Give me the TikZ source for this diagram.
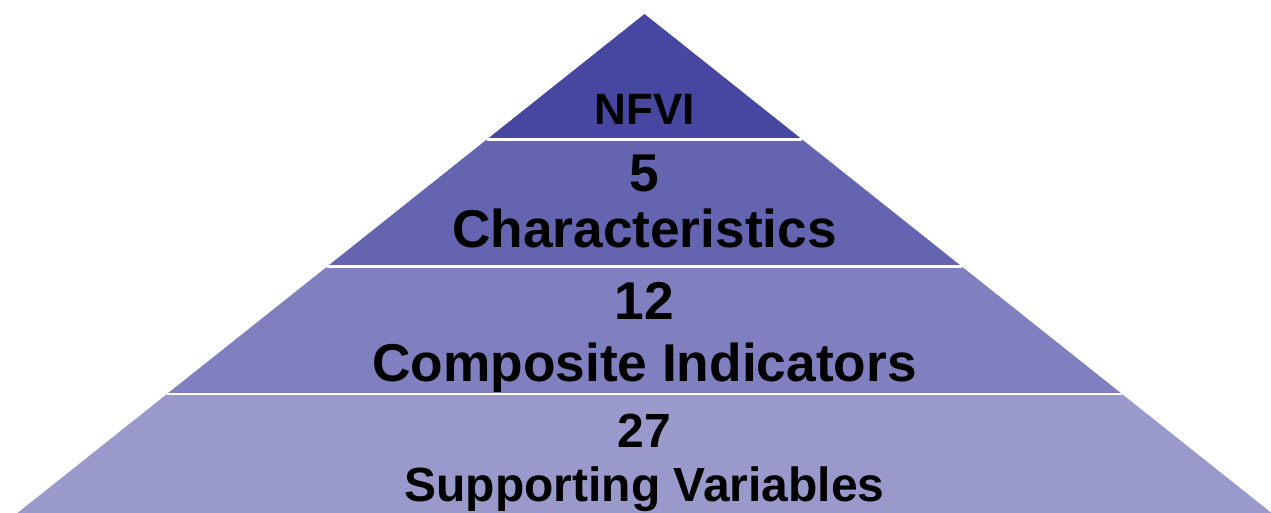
\documentclass[tikz,border=0pt]{standalone}
\usepackage{fontspec}
\setmainfont{Liberation Sans}

\definecolor{tierone}{RGB}{71,71,161}
\definecolor{tiertwo}{RGB}{100,100,176}
\definecolor{tierthree}{RGB}{128,128,192}
\definecolor{tierfour}{RGB}{153,153,204}

\tikzset{
  gapline/.style={draw=white,line width=1.7pt},
  toplabel/.style={anchor=base,inner sep=0pt,font=\bfseries\fontsize{25pt}{30pt}\selectfont},
  tierlabel/.style={anchor=base,inner sep=0pt,font=\bfseries\fontsize{30.3pt}{36pt}\selectfont},
  baselabel/.style={anchor=base,inner sep=0pt,font=\bfseries\fontsize{27.3pt}{32pt}\selectfont}
}

\begin{document}
\begin{tikzpicture}[x=0.02cm,y=0.02cm]
      \useasboundingbox (0,0) rectangle (1271,513);
      \clip (0,0) rectangle (1271,513);

      % corners of the pyramid and of its tiers
      \coordinate (apex) at (644.5,499);
      \coordinate (b1l) at (486.8,373.5);
      \coordinate (b1r) at (802.2,373.5);
      \coordinate (b2l) at (327.2,246.5);
      \coordinate (b2r) at (961.8,246.5);
      \coordinate (b3l) at (167,119);
      \coordinate (b3r) at (1122,119);
      \coordinate (b4l) at (6.8,-8.5);
      \coordinate (b4r) at (1282.2,-8.5);

      \fill[tierone] (apex) -- (b1r) -- (b1l) -- cycle;
      \fill[tiertwo] (b1l) -- (b1r) -- (b2r) -- (b2l) -- cycle;
      \fill[tierthree] (b2l) -- (b2r) -- (b3r) -- (b3l) -- cycle;
      \fill[tierfour] (b3l) -- (b3r) -- (b4r) -- (b4l) -- cycle;

      \draw[gapline] (b1l) -- (b1r);
      \draw[gapline] (b2l) -- (b2r);
      \draw[gapline] (b3l) -- (b3r);

      \node[toplabel] (nfvi) at (644.5,388) {NFVI};
      \node[tierlabel] (charnum) at (644.5,321.3) {5};
      \node[tierlabel] (chartext) at (644.5,265.7) {Characteristics};
      \node[tierlabel] (compnum) at (644.5,193) {12};
      \node[tierlabel] (comptext) at (644.5,131.3) {Composite Indicators};
      \node[baselabel] (suppnum) at (644.5,65) {27};
      \node[baselabel] (supptext) at (644.5,11) {Supporting Variables};
    \end{tikzpicture}
\end{document}
